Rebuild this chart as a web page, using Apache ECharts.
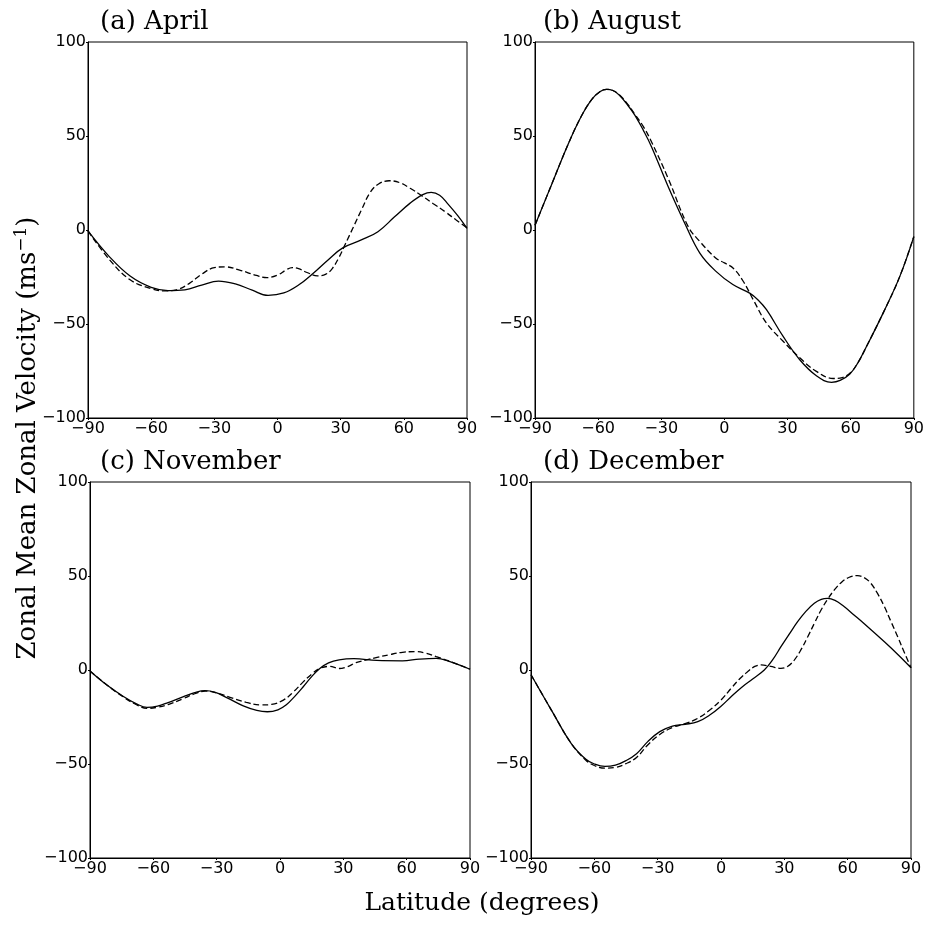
<!DOCTYPE html>
<html>
<head>
<meta charset="utf-8">
<script src="https://cdn.jsdelivr.net/npm/echarts@6/dist/echarts.min.js"></script>
<style>
  html, body { margin: 0; padding: 0; background: #fff; }
  #main { width: 927px; height: 927px; }
</style>
</head>
<body>
<div id="main"></div>
<script>
'use strict';

var panelTitles = ['(a) April', '(b) August', '(c) November', '(d) December'];

// (a) April
var aprilSolid = [[-90, -0.5], [-80, -14], [-70, -24.5], [-60, -30.5], [-52, -32.2], [-44, -31.8],
    [-36, -29.3], [-28, -27.2], [-20, -28.7], [-12, -32], [-4.5, -34.8], [3, -33.5], [10, -29.3],
    [17, -23], [24, -15.9], [31, -9.5], [39.8, -5.3], [47.7, -0.9], [55.6, 7], [63, 14.3],
    [69, 18.8], [73, 20], [77, 18.5], [81, 13.8], [85.7, 7.5], [90, 0.9]];
var aprilDashed = [[-90, -0.5], [-80, -15.5], [-70, -26.5], [-60, -31.2], [-54, -32.4], [-48, -31.8],
    [-42, -28.5], [-36, -23.5], [-30, -20], [-25, -19.6], [-18, -21.3], [-10, -24.2], [-5, -25.3],
    [0, -24], [4, -21.3], [7, -20], [10, -20.6], [14, -22.6], [19, -24.4], [23, -23.5], [26, -20.5],
    [29, -15], [32, -8], [36, 1.5], [40, 11], [44, 20], [48, 24.5], [53, 26.2], [58, 25.2],
    [63, 22.2], [68, 18.6], [74, 14], [80, 9.4], [85, 5.2], [90, 1.2]];

// (b) August
var augustSolid = [[-90, 2.5], [-82, 24.5], [-74, 46.3], [-68, 60.5], [-63, 69.5], [-59, 73.7],
    [-56, 74.8], [-53, 74.2], [-50, 71.8], [-46, 66.5], [-42.5, 61], [-38.5, 53], [-34.6, 44.2],
    [-26.7, 23], [-18.8, 3.5], [-11.6, -12.4], [-4, -22], [4, -29], [12, -33.6], [16, -37.2],
    [20, -42.4], [27.9, -56.6], [35.8, -69], [43.7, -77.5], [50.9, -81], [55, -80], [59.6, -76.6],
    [63.5, -70.5], [67.5, -62], [75.4, -44.2], [83.3, -24.8], [90, -3.5]];
var augustDashed = [[-90, 2.5], [-82, 24.5], [-74, 46.3], [-68, 60.5], [-63, 69.5], [-59, 73.7],
    [-56, 74.8], [-53, 74.2], [-50, 72], [-46, 67], [-42.5, 61.5], [-38.5, 55], [-34.6, 46.8],
    [-26.7, 27.4], [-17.2, 1.8], [-11.6, -6.2], [-4, -15], [0, -17.5], [4.2, -20.3], [9, -27.4],
    [13.7, -37.1], [20, -49.5], [27.9, -59.2], [35.8, -68], [43.7, -75.2], [51.7, -79], [56, -78.5],
    [60, -75.8], [63.5, -70.5], [67.5, -62], [75.4, -44.2], [83.3, -24.8], [90, -3.5]];

// (c) November
var novemberSolid = [[-90, -0.5], [-82, -8], [-74, -14.2], [-68, -18], [-63, -19.9], [-58, -19.2],
    [-53, -17.3], [-46, -14.3], [-40, -11.9], [-35.5, -11], [-31, -11.8], [-25, -14.8], [-17.4, -19.1],
    [-11, -21.5], [-6, -22.2], [-1, -21.2], [3, -18.5], [7, -14], [11, -8.9], [15, -3.5], [19, 0.9],
    [23, 3.8], [28, 5.4], [35, 6], [45.8, 5.1], [58, 4.9], [66, 5.8], [74, 6.2], [80.5, 4.4], [90, 0.4]];
var novemberDashed = [[-90, -0.5], [-82, -8], [-74, -14.5], [-68, -18.5], [-63, -20.4], [-58, -19.8],
    [-53, -18.4], [-46, -15.3], [-40, -12.5], [-35.5, -11.2], [-30, -12.2], [-23.7, -14.5], [-16, -17.2],
    [-9, -18.6], [-4, -18.3], [1.6, -16], [6.5, -11.5], [11, -6.3], [15, -2.2], [19, 0.9], [23.5, 1.9],
    [28, 0.8], [32, 1.8], [36, 3.9], [41, 5.4], [46, 6.7], [52, 8.2], [58, 9.4], [64, 9.8], [69, 9],
    [74, 7.1], [80, 4.8], [90, 0.4]];

// (d) December
var decemberSolid = [[-90, -2.5], [-80, -22], [-71, -39], [-64, -47.5], [-60, -50], [-55, -51.3],
    [-50, -50.6], [-45, -48.2], [-40, -44.5], [-34.7, -38.1], [-29, -32.8], [-23, -29.8], [-17, -28.9],
    [-11, -27.5], [-5, -23.7], [0, -19.3], [5, -14], [10, -9], [15, -4.8], [20.5, 0], [24.5, 5.5],
    [28.4, 12.4], [32.4, 19.2], [36.3, 25.7], [40.2, 31.2], [44.2, 35.5], [47.5, 37.6], [50.5, 38.1],
    [54, 37], [58, 34], [63, 29.3], [68, 24.5], [77.4, 15], [84, 8], [90, 1.2]];
var decemberDashed = [[-90, -2.5], [-80, -22], [-71, -39], [-64, -48], [-60, -50.8], [-55, -52.2],
    [-50, -51.8], [-45, -49.8], [-40, -46.5], [-34.7, -39.9], [-29, -34.3], [-23, -30.6], [-17, -28.5],
    [-11, -25.7], [-5, -21], [0, -16], [5, -9.5], [9, -4.5], [12.6, -0.9], [16, 1.9], [19, 2.7],
    [23.5, 1.9], [28.4, 0.9], [31.5, 1.9], [34.7, 5.3], [37.9, 10.8], [41.1, 17.7], [44.3, 25],
    [47.4, 31.9], [50.5, 37.6], [53.7, 42.6], [57, 46.6], [60.5, 49.2], [64.7, 50.2], [68, 49],
    [71, 46.1], [74.2, 40.6], [77.4, 33.7], [80.5, 25.8], [83.7, 17.7], [86.5, 10.2], [90, 1.2]];

var solidData = [aprilSolid, augustSolid, novemberSolid, decemberSolid];
var dashedData = [aprilDashed, augustDashed, novemberDashed, decemberDashed];

var chart = echarts.init(document.getElementById('main'));

var grids = [
    { left: 88, top: 42, width: 379, height: 376 },
    { left: 535, top: 42, width: 379, height: 376 },
    { left: 90, top: 482, width: 380, height: 376 },
    { left: 531, top: 482, width: 380, height: 376 }
];
var titleLeft = [95, 538, 95, 538];

var minusFmt = function(v) {
    return String(v).replace('-', '\u2212');
};
var tickFont = { fontFamily: 'DejaVu Sans', fontSize: 16, color: '#000' };

var xAxes = [], yAxes = [], series = [], titles = [];
grids.forEach(function(g, i) {
    g.show = true;
    g.borderColor = '#000';
    g.borderWidth = 1;
    xAxes.push({
        type: 'value', gridIndex: i, min: -90, max: 90, interval: 30,
        axisLine: { show: true, onZero: false, lineStyle: { color: '#000', width: 1 } },
        axisTick: { show: true, length: 2, lineStyle: { color: '#000' } },
        splitLine: { show: false },
        axisLabel: Object.assign({ margin: 3, formatter: minusFmt }, tickFont)
    });
    yAxes.push({
        type: 'value', gridIndex: i, min: -100, max: 100, interval: 50,
        axisLine: { show: true, onZero: false, lineStyle: { color: '#000', width: 1 } },
        axisTick: { show: true, length: 2, lineStyle: { color: '#000' } },
        splitLine: { show: false },
        axisLabel: Object.assign({ margin: 2, formatter: minusFmt }, tickFont)
    });
    series.push({
        type: 'line', xAxisIndex: i, yAxisIndex: i, data: dashedData[i],
        smooth: 0.4, showSymbol: false, silent: true,
        lineStyle: { color: '#000', width: 1.3, type: [6, 3] }
    });
    series.push({
        type: 'line', xAxisIndex: i, yAxisIndex: i, data: solidData[i],
        smooth: 0.4, showSymbol: false, silent: true,
        lineStyle: { color: '#000', width: 1.3, type: 'solid' }
    });
    titles.push({
        text: panelTitles[i],
        left: titleLeft[i],
        top: g.top - 38,
        textStyle: { fontFamily: 'DejaVu Serif', fontSize: 26, fontWeight: 'normal', color: '#000' }
    });
});

chart.setOption({
    animation: false,
    backgroundColor: '#fff',
    title: titles,
    grid: grids,
    xAxis: xAxes,
    yAxis: yAxes,
    series: series,
    graphic: [{
        type: 'text',
        x: 28, y: 438,
        rotation: Math.PI / 2,
        style: {
            text: 'Zonal Mean Zonal Velocity (ms{sup|\u22121})',
            rich: { sup: { fontFamily: 'DejaVu Serif', fontSize: 17, verticalAlign: 'top', padding: [0, 0, 12, 0] } },
            fontFamily: 'DejaVu Serif', fontSize: 26, fill: '#000',
            align: 'center', verticalAlign: 'middle'
        }
    }, {
        type: 'text',
        x: 482, y: 903,
        style: {
            text: 'Latitude (degrees)',
            fontFamily: 'DejaVu Serif', fontSize: 25, fill: '#000',
            align: 'center', verticalAlign: 'middle'
        }
    }]
});
</script>
</body>
</html>
